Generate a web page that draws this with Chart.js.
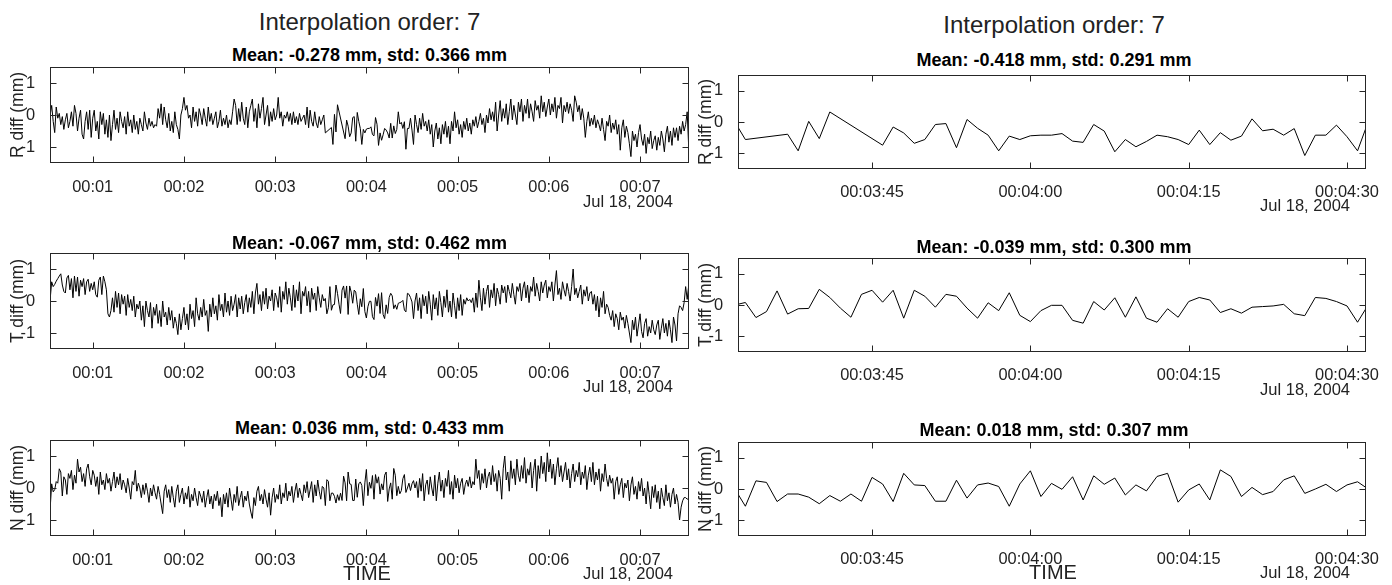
<!DOCTYPE html>
<html><head><meta charset="utf-8">
<script src="https://cdn.jsdelivr.net/npm/chart.js@4.4.1/dist/chart.umd.min.js"></script>
<style>
html,body{margin:0;padding:0;background:#fff;}
#root{position:relative;width:1392px;height:585px;overflow:hidden;font-family:'Liberation Sans',Arial,sans-serif;color:#222;}
.t{position:absolute;white-space:nowrap;line-height:1;transform:translate(-50%,-50%);}
.r{position:absolute;white-space:nowrap;line-height:1;transform:translate(-100%,-50%);}
.v{position:absolute;white-space:nowrap;line-height:1;transform:translate(-50%,-50%) rotate(-90deg);}
.box{position:absolute;}
</style></head><body><div id="root"></div>
<script>
// ---------------- DATA ----------------
// left panels: 1 s samples, t = 32..211 s and t = 273..452 s; the window 212..272 s is shared with the right panels
const rLeftA = [0.0,0.3,-0.2,-0.55,0.25,-0.1,0.05,-0.3,-0.05,-0.45,
-0.15,0.05,-0.4,-0.2,0.1,-0.35,0.3,0.05,-0.5,-0.1,
0.15,-0.6,-0.75,-0.2,0.1,-0.45,0.15,-0.7,-0.1,0.15,
-0.5,-0.2,-0.75,0.1,-0.3,0.05,-0.6,-0.15,-0.7,0.0,
-0.8,-0.3,0.15,-0.45,-0.1,-0.55,0.1,-0.2,-0.4,-0.05,
-0.6,0.1,-0.35,-0.15,-0.55,0.0,-0.45,-0.2,-0.6,-0.1,
-0.3,-0.5,0.1,-0.25,-0.45,-0.1,-0.35,-0.2,-0.4,-0.3,
-0.35,0.2,-0.1,0.35,-0.3,0.25,-0.15,-0.4,0.05,-0.5,
-0.2,-0.55,0.1,-0.3,-0.45,-0.75,0.0,0.2,0.55,0.15,
0.3,-0.1,0.0,-0.4,0.25,-0.2,0.1,-0.35,0.2,0.0,
-0.3,0.2,-0.1,-0.35,0.25,-0.2,0.05,-0.3,-0.1,0.1,
-0.4,-0.2,0.15,-0.35,-0.1,-0.3,0.0,-0.4,-0.15,-0.3,
0.1,0.5,0.3,-0.3,0.2,-0.2,0.4,-0.1,-0.3,0.25,
-0.4,0.1,0.3,0.5,-0.2,0.2,-0.4,0.35,-0.1,0.2,
0.55,-0.3,0.0,0.3,-0.35,0.1,-0.2,0.2,-0.15,0.0,
0.55,-0.1,0.1,-0.35,0.0,-0.1,0.1,-0.2,0.05,-0.3,
0.1,-0.25,-0.05,-0.3,0.05,-0.2,-0.1,0.0,-0.3,0.25,
-0.4,0.15,-0.2,-0.35,0.1,-0.25,-0.4,-0.05,-0.3,-0.15];
const rLeftB = [-0.3,-0.55,-0.1,-0.45,0.05,-0.35,-0.2,-0.5,-0.15,-0.6,
-0.3,-1.0,-0.5,-0.25,-0.75,-0.4,-0.9,-0.3,-0.6,-0.2,
-0.7,-0.35,-0.9,-0.2,-0.5,0.1,-0.4,-0.15,-0.6,-0.3,
-0.7,-0.2,-0.45,-0.1,-0.5,-0.25,-0.6,-0.15,-0.35,-0.05,
-0.4,-0.2,0.05,-0.3,-0.1,-0.55,0.0,-0.25,0.2,-0.15,
0.1,-0.2,0.4,-0.5,0.0,0.45,-0.2,0.2,-0.1,0.35,
-0.3,0.1,0.5,-0.15,0.3,0.0,-0.3,0.4,0.1,0.5,
-0.2,0.3,0.05,0.5,-0.1,0.35,0.1,-0.2,0.45,0.15,
0.3,-0.1,0.6,0.1,0.4,-0.05,0.25,0.5,0.0,0.35,
0.1,0.55,-0.1,0.3,0.2,0.55,-0.25,0.3,0.1,0.4,
0.05,0.35,0.15,-0.2,0.6,0.4,0.1,0.3,-0.15,0.2,
-0.1,-0.7,-0.2,0.1,-0.35,-0.1,-0.3,0.0,-0.4,-0.15,
-0.3,-0.5,-0.1,-0.45,-0.8,-0.2,-0.35,0.0,-0.55,-0.25,
-0.45,-0.15,-0.6,-0.3,-1.1,-0.4,-0.15,-0.7,-0.35,-0.55,
-0.9,-1.3,-0.5,-0.8,-0.6,-1.0,-0.55,-0.3,-0.75,-0.95,
-0.6,-1.2,-0.7,-0.9,-0.5,-1.05,-0.8,-0.65,-1.1,-0.7,
-0.95,-0.5,-0.75,-1.15,-0.6,-0.35,-0.85,-0.5,-0.95,-0.4,
-0.7,-0.4,-0.8,-0.35,-0.6,-0.2,-0.5,-0.3,0.1,-1.0];

const tLeftA = [0.05,0.6,0.45,0.52,0.62,0.7,0.78,0.85,0.5,0.3,
0.25,0.72,0.8,0.35,0.7,0.1,0.78,0.3,0.75,0.15,
0.65,0.45,0.7,0.2,0.6,0.68,0.3,0.55,0.35,0.6,
0.2,0.12,0.65,0.75,0.2,0.78,0.6,0.35,-0.4,-0.5,
-0.3,0.1,-0.35,0.3,-0.2,0.25,-0.4,0.2,-0.1,0.15,
-0.45,0.2,-0.2,0.05,-0.3,0.15,-0.5,-0.1,-0.25,0.0,
-0.6,-0.15,-0.8,0.0,-0.3,-0.5,-0.05,-0.85,-0.2,-0.45,
-0.1,-0.7,-0.3,-0.8,0.0,-0.5,-0.35,-0.75,-0.2,-0.6,
-0.3,-0.85,-0.5,-0.7,-1.05,-0.4,-0.9,-0.55,-0.2,-0.75,
-0.4,-0.9,-0.1,-0.55,-0.3,-0.8,0.1,-0.4,-0.6,-0.2,
-0.5,0.05,-0.45,-0.3,-0.95,-0.1,-0.5,0.1,-0.4,-0.15,
-0.6,0.2,-0.3,-0.1,-0.5,0.25,-0.35,0.0,-0.45,0.15,
-0.3,-0.1,0.2,-0.5,0.1,-0.25,0.15,-0.4,-0.05,0.2,
-0.35,0.1,-0.2,0.3,-0.4,0.25,0.55,-0.1,0.2,-0.3,
0.3,-0.1,0.4,-0.25,0.15,0.0,0.35,-0.3,0.25,0.1,
-0.2,0.45,-0.35,0.3,0.05,0.6,-0.1,0.4,0.1,-0.3,
0.5,-0.2,0.35,0.0,0.6,-0.4,0.3,0.15,0.45,-0.15,
0.3,-0.35,0.4,0.05,0.25,-0.3,0.45,0.1,-0.2,0.2];
const tLeftB = [0.25,-0.3,0.1,-0.55,0.2,-0.15,0.15,-0.4,0.3,-0.1,
-0.6,0.2,-0.25,0.1,-0.45,0.3,-0.05,-0.5,0.15,-0.2,
0.35,-0.35,0.0,-0.5,0.25,-0.15,-0.55,0.1,-0.3,0.2,
-0.45,0.05,-0.1,0.1,0.0,0.05,-0.05,0.1,-0.35,0.25,
-0.2,0.65,0.1,-0.3,0.4,-0.1,0.3,0.5,-0.2,0.35,
0.1,0.55,-0.15,0.4,0.2,-0.1,0.5,0.25,0.45,-0.05,
0.5,0.3,0.1,0.55,0.2,-0.1,0.45,0.3,0.55,0.0,
0.4,0.6,0.1,0.5,-0.05,0.45,0.3,0.75,0.15,0.55,
0.3,0.0,0.6,0.25,0.5,0.65,0.1,0.45,0.3,0.6,
0.0,0.5,0.95,0.2,0.4,0.05,0.6,0.35,0.15,0.55,
0.3,0.0,0.45,1.0,0.2,0.4,0.1,0.3,0.5,-0.1,
0.35,0.15,0.45,0.0,0.25,0.3,-0.1,0.2,-0.3,0.15,
-0.5,0.1,-0.2,0.3,-0.4,-0.1,-0.2,-0.45,-0.6,-0.3,
-0.8,-0.4,-0.55,-0.9,-0.35,-0.6,-0.5,-0.85,-0.45,-0.7,
-1.0,-1.3,-0.6,-0.9,-0.5,-1.1,-0.75,-0.4,-0.95,-1.15,
-0.7,-0.55,-1.1,-0.8,-1.0,-0.6,-0.9,-1.05,-0.75,-0.6,
-1.2,-0.85,-0.55,-1.0,-0.7,-1.1,-0.6,-0.9,-1.3,-0.5,
-0.75,-1.25,-0.4,-0.15,-0.2,-0.3,-0.05,0.45,0.05,0.48];

const nLeftA = [-0.65,0.13,-0.12,-0.05,0.2,0.15,0.6,0.5,-0.25,0.35,
0.25,-0.2,0.45,0.3,0.55,-0.05,0.4,0.15,0.9,0.5,
0.65,0.2,0.45,0.05,0.6,0.75,0.35,0.1,0.55,0.4,
0.05,0.35,-0.2,0.5,0.1,0.25,-0.05,0.45,0.15,0.3,
-0.1,0.2,0.5,0.0,0.35,0.1,0.45,-0.05,0.25,0.1,
-0.15,0.3,0.0,-0.35,0.2,0.1,0.55,-0.1,0.15,0.0,
-0.3,0.1,-0.2,0.15,-0.1,-0.45,0.0,-0.25,0.1,-0.15,
-0.35,0.05,-0.2,-0.5,-0.8,-0.1,0.1,-0.3,-0.05,-0.45,
0.05,-0.3,-0.6,-0.1,0.1,-0.45,-0.2,0.0,-0.5,-0.15,
-0.35,0.05,-0.6,-0.2,-0.4,0.0,-0.3,-0.55,-0.1,-0.25,
-0.45,-0.1,-0.6,-0.3,-0.05,-0.5,-0.25,-0.65,-0.2,-0.4,
-0.1,-0.55,-0.3,-0.9,-0.2,-0.5,-0.15,-0.6,0.0,-0.35,
-0.7,-0.2,-0.45,0.05,-0.55,-0.3,-0.1,-0.6,-0.25,-0.4,
-0.1,-0.5,-0.75,-0.95,-0.3,-0.55,-0.1,0.05,-0.4,-0.2,
-0.5,-0.05,-0.35,-0.6,-0.15,-0.85,-0.3,0.0,-0.45,-0.2,
-0.35,0.1,-0.5,-0.15,-0.3,0.15,-0.4,-0.1,-0.25,0.05,
-0.45,-0.1,0.15,-0.3,0.0,-0.2,-0.4,0.1,-0.15,0.2,
-0.3,-0.05,0.2,-0.45,0.1,-0.25,0.25,-0.1,-0.35,0.05];
const nLeftB = [0.2,-0.3,0.3,-0.1,0.45,-0.4,0.1,0.25,-0.2,0.35,
0.0,-0.25,0.4,-0.4,0.15,0.5,-0.1,0.25,-0.3,0.3,
0.05,0.55,-0.2,0.2,-0.35,0.4,0.0,0.3,-0.15,0.15,
0.3,-0.2,0.1,0.25,0.05,0.35,0.0,0.2,0.1,0.9,
0.3,0.55,-0.05,0.45,0.15,0.6,0.0,0.35,0.5,0.1,
0.7,0.2,0.45,-0.1,0.55,0.3,-0.35,0.6,1.0,0.25,
0.5,-0.1,0.85,0.3,0.6,0.1,0.9,0.4,0.2,0.7,
0.3,0.95,0.15,0.6,0.4,0.8,0.0,0.55,0.9,-0.1,
0.7,0.3,1.0,0.45,0.8,0.2,1.1,0.5,0.9,0.3,
0.75,0.1,0.6,0.95,0.35,0.7,0.2,0.5,0.8,0.25,
0.6,0.0,0.45,0.75,0.2,0.55,0.35,0.8,0.1,0.5,
0.3,0.7,-0.05,0.4,0.65,0.2,0.8,0.1,0.5,0.25,
0.6,-0.1,0.45,0.2,0.75,0.3,0.05,0.4,0.15,0.3,
-0.35,0.2,0.35,-0.2,0.1,0.3,-0.3,0.15,0.0,0.25,
-0.4,0.1,0.35,-0.2,0.05,-0.35,0.2,-0.1,0.3,-0.25,
0.0,-0.5,0.2,-0.2,-0.65,0.05,-0.3,0.1,-0.45,-0.1,
-0.65,0.0,-0.3,-0.55,0.1,-0.4,-0.15,-0.6,-0.2,0.0,
-0.5,-0.2,-0.45,-1.0,-0.6,-0.4,-0.3,-0.3,-0.35,-0.33];

// right panels (zoom window 00:03:32 - 00:04:32)
const rZoomTimes = [212,213,217,218,219,220,221,226,227,228,229,230,231,232,233,234,235,236,237,238,239,240,
241,242,243,244,245,246,247,248,249,250,251,252,253,254,255,256,257,258,259,260,261,262,263,264,265,266,267,268,269,270,271,272];
const rZoom = [0,-0.56,-0.39,-0.92,0.02,-0.53,0.32,-0.74,-0.16,-0.35,-0.68,-0.56,-0.08,-0.05,-0.82,0.08,-0.2,-0.42,-0.92,-0.45,-0.56,-0.44,
-0.42,-0.42,-0.37,-0.61,-0.65,-0.08,-0.29,-0.95,-0.56,-0.79,-0.62,-0.42,-0.47,-0.56,-0.72,-0.26,-0.72,-0.34,-0.58,-0.45,0.1,-0.28,-0.23,-0.42,-0.21,-1.07,-0.42,-0.42,-0.1,-0.47,-0.92,0];
const zoomTimes = [212,213,214,215,216,217,218,219,220,221,222,223,224,225,226,227,228,229,230,231,232,233,234,235,236,237,238,239,240,241,
242,243,244,245,246,247,248,249,250,251,252,253,254,255,256,257,258,259,260,261,262,263,264,265,266,267,268,269,270,271,272];
const tZoom = [0,0.08,-0.4,-0.21,0.45,-0.29,-0.12,-0.11,0.5,0.24,-0.1,-0.39,0.34,0.47,0.09,0.47,-0.42,0.47,0.28,-0.07,0.34,0.28,-0.1,-0.42,0.07,-0.18,0.39,-0.33,-0.53,-0.18,
-0.01,-0.01,-0.49,-0.58,0.11,-0.16,0.23,-0.39,0.26,-0.42,-0.55,-0.12,-0.39,0.11,0.24,0.16,-0.24,-0.12,-0.26,-0.07,-0.05,-0.03,0.02,-0.28,-0.34,0.24,0.21,0.11,-0.03,-0.55,0];
const nZoom = [0,-0.55,0.26,0.21,-0.4,-0.16,-0.16,-0.26,-0.47,-0.21,-0.39,-0.16,-0.39,0.37,0.16,-0.4,0.5,0.13,0.11,-0.39,-0.39,0.28,-0.29,0.13,0.19,0.08,-0.55,0.16,0.58,-0.24,
0.18,-0.01,0.39,-0.35,0.42,0.15,0.35,-0.19,0.13,-0.06,0.4,0.5,-0.42,-0.03,0.16,-0.35,0.61,0.4,-0.24,0.05,-0.18,-0.08,0.29,0.42,-0.14,0.0,0.15,-0.08,0.13,0.23,0];

// axes
const leftRange = [31.9, 452.2];
const rightRange = [212.3, 271.8];
const leftTicks = [60,120,180,240,300,360,420];
const leftTickLabels = ['00:01','00:02','00:03','00:04','00:05','00:06','00:07'];
const rightTicks = [225,240,255,270];
const rightTickLabels = ['00:03:45','00:04:00','00:04:15','00:04:30'];
const yTicks = [-1,0,1];
const yTickLabels = ['-1','0','1'];
const yRange = [-1.5, 1.5];

const titleLeft = 'Interpolation order: 7', titleRight = 'Interpolation order: 7';
const leftSubtitles = ['Mean: -0.278 mm, std: 0.366 mm','Mean: -0.067 mm, std: 0.462 mm','Mean: 0.036 mm, std: 0.433 mm'];
const rightSubtitles = ['Mean: -0.418 mm, std: 0.291 mm','Mean: -0.039 mm, std: 0.300 mm','Mean: 0.018 mm, std: 0.307 mm'];
const yLabels = ['R diff (mm)','T diff (mm)','N diff (mm)'];
const dateLabel = 'Jul 18, 2004';
const xLabel = 'TIME';

// ---------------- BUILD ----------------
function pts(times, vals){ return vals.map((v,i)=>({x:times[i], y:v})); }
function seq(start, n){ const a=[]; for(let i=0;i<n;i++) a.push(start+i); return a; }
function leftSeries(a, zt, zv, b){
  return pts(seq(32, a.length), a).concat(pts(zt, zv), pts(seq(273, b.length), b));
}
const leftData = [
  leftSeries(rLeftA, rZoomTimes, rZoom, rLeftB),
  leftSeries(tLeftA, zoomTimes, tZoom, tLeftB),
  leftSeries(nLeftA, zoomTimes, nZoom, nLeftB)
];
const rightData = [pts(rZoomTimes, rZoom), pts(zoomTimes, tZoom), pts(zoomTimes, nZoom)];

const FONT = "'Liberation Sans', Arial, sans-serif";
const AX = '#262626';
const root = document.getElementById('root');

const boxPlugin = {
  id:'boxTicks',
  afterDraw(chart){
    const {ctx, chartArea:a, scales:{x,y}} = chart;
    ctx.save();
    ctx.strokeStyle = AX; ctx.lineWidth = 1;
    ctx.strokeRect(a.left+0.5, a.top+0.5, a.right-a.left-1, a.bottom-a.top-1);
    const L = 6.5;
    ctx.beginPath();
    x.ticks.forEach(t=>{
      const p = Math.round(x.getPixelForValue(t.value))+0.5;
      ctx.moveTo(p, a.bottom); ctx.lineTo(p, a.bottom-L);
      ctx.moveTo(p, a.top); ctx.lineTo(p, a.top+L);
    });
    y.ticks.forEach(t=>{
      const p = Math.round(y.getPixelForValue(t.value))+0.5;
      ctx.moveTo(a.left, p); ctx.lineTo(a.left+L, p);
      ctx.moveTo(a.right, p); ctx.lineTo(a.right-L, p);
    });
    ctx.stroke();
    ctx.restore();
  }
};

function addText(cls, txt, x, y, size, bold, color){
  const d = document.createElement('div');
  d.className = cls; d.textContent = txt;
  d.style.left = x+'px'; d.style.top = y+'px';
  d.style.fontSize = size+'px';
  if (bold) d.style.fontWeight = 'bold';
  d.style.color = color || '#222';
  root.appendChild(d);
}

const RPAD = 40;
function makeChart(data, plotLeft, plotTop, plotW, plotH, range, ticks, tickLabels, xPad){
  const W = 50 + plotW + RPAD, H = 2 + plotH + 30;
  const div = document.createElement('div');
  div.className = 'box';
  div.style.left = (plotLeft-50)+'px'; div.style.top = (plotTop-2)+'px';
  div.style.width = W+'px'; div.style.height = H+'px';
  const cv = document.createElement('canvas');
  cv.width = W; cv.height = H; cv.style.width = W+'px'; cv.style.height = H+'px';
  div.appendChild(cv); root.appendChild(div);
  new Chart(cv, {
    type:'line',
    data:{datasets:[{data, borderColor:'#000', borderWidth:1, pointRadius:0, tension:0, fill:false}]},
    options:{
      responsive:false, animation:false, devicePixelRatio:1,
      parsing:false, normalized:true,
      layout:{padding:{top:2,right:RPAD,left:0,bottom:0}},
      plugins:{legend:{display:false}, tooltip:{enabled:false}, title:{display:false}},
      scales:{
        x:{type:'linear', min:range[0], max:range[1],
           grid:{display:false}, border:{display:false},
           afterBuildTicks:s=>{ s.ticks = ticks.map(v=>({value:v})); },
           afterFit:s=>{ s.height = 30; s.paddingLeft=0; s.paddingRight=0; s.paddingTop=0; s.paddingBottom=0; },
           ticks:{autoSkip:false, maxRotation:0, padding:xPad, color:'#222', font:{family:FONT, size:16.4},
             callback:v=>{ const i = ticks.indexOf(v); return i>=0 ? tickLabels[i] : ''; }}},
        y:{type:'linear', min:yRange[0], max:yRange[1],
           grid:{display:false}, border:{display:false},
           afterBuildTicks:s=>{ s.ticks = yTicks.map(v=>({value:v})); },
           afterFit:s=>{ s.width = 50; s.paddingLeft=0; s.paddingRight=0; s.paddingTop=0; s.paddingBottom=0; },
           ticks:{padding:7, color:'#222', font:{family:FONT, size:16.4},
             callback:v=>{ const i = yTicks.indexOf(v); return i>=0 ? yTickLabels[i] : ''; }}}
      }
    },
    plugins:[boxPlugin]
  });
}

// layout
const L = {left:50, w:639, h:96, tops:[67,253,440], cx:369.5, sub:[55,243.3,428.3], date:[200.7,386,573], ylab:17.5};
const R = {left:738, w:628, h:94, tops:[75,258,442], cx:1054, sub:[60,246.7,430], date:[205,389,572], ylab:706};

for (let i=0;i<3;i++){
  makeChart(leftData[i], L.left, L.tops[i], L.w, L.h, leftRange, leftTicks, leftTickLabels, 7);
  makeChart(rightData[i], R.left, R.tops[i], R.w, R.h, rightRange, rightTicks, rightTickLabels, 6);
}
addText('t', titleLeft, L.cx, 21.7, 24, false);
addText('t', titleRight, R.cx, 25, 24, false);
for (let i=0;i<3;i++){
  addText('t', leftSubtitles[i], L.cx, L.sub[i], 18, true, '#000');
  addText('t', rightSubtitles[i], R.cx, R.sub[i], 18, true, '#000');
  addText('v', yLabels[i], L.ylab, L.tops[i]+L.h/2, 17.5, false);
  addText('v', yLabels[i], R.ylab, R.tops[i]+R.h/2, 17.5, false);
  addText('r', dateLabel, L.left+L.w-16, L.date[i], 16.5, false);
  addText('r', dateLabel, R.left+R.w-16, R.date[i], 16.5, false);
}
addText('t', xLabel, 367, 573, 20, false);
addText('t', xLabel, 1053, 572, 20, false);
</script></body></html>
